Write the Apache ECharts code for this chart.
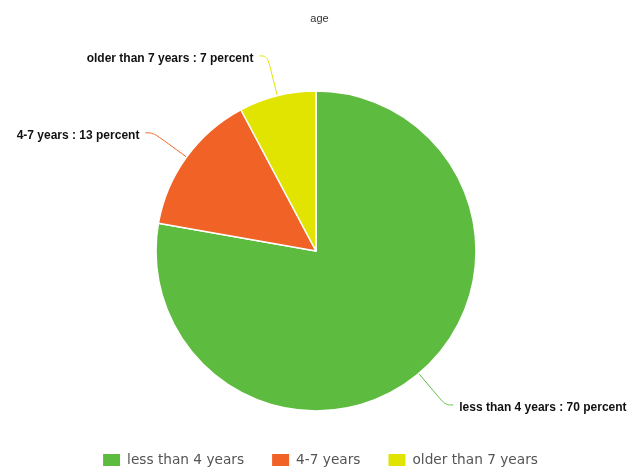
<!DOCTYPE html>
<html><head><meta charset="utf-8">
<script src="https://cdn.jsdelivr.net/npm/echarts@6/dist/echarts.min.js"></script>
<style>html,body{margin:0;padding:0;background:#fff}#c{width:639px;height:468px}</style>
</head><body><div id="c"></div>
<script>
const categories = ['less than 4 years', '4-7 years', 'older than 7 years'];
const values = [70, 13, 7];
const colors = ['#5dbb3f', '#f06225', '#e1e300'];

const chart = echarts.init(document.getElementById('c'));
chart.setOption({
  animation: false,
  title: { text: 'age', left: 'center', top: 8,
    textStyle: { fontFamily: 'Liberation Sans', fontSize: 11, fontWeight: 'normal', color: '#333' } },
  legend: {
    top: 447, left: 'center', itemWidth: 19, itemHeight: 14, itemGap: 26,
    icon: 'rect',
    textStyle: { fontFamily: 'DejaVu Sans', fontSize: 13.7, color: '#555', padding: [0, 0, 0, 1] },
    data: categories
  },
  color: colors,
  series: [{
    type: 'pie',
    center: [316, 251],
    radius: [0, 160],
    startAngle: 90,
    clockwise: true,
    itemStyle: { borderColor: '#fff', borderWidth: 1.5 },
    label: {
      formatter: '{b} : {c} percent',
      fontFamily: 'Liberation Sans', fontSize: 12, fontWeight: 'bold', color: '#111',
      distanceToLabelLine: 6
    },
    labelLayout: { dy: 3 },
    labelLine: { smooth: 0.4, length: 41, length2: 8, lineStyle: { width: 1 } },
    data: categories.map((c, i) => ({ name: c, value: values[i] }))
  }]
});
</script></body></html>
